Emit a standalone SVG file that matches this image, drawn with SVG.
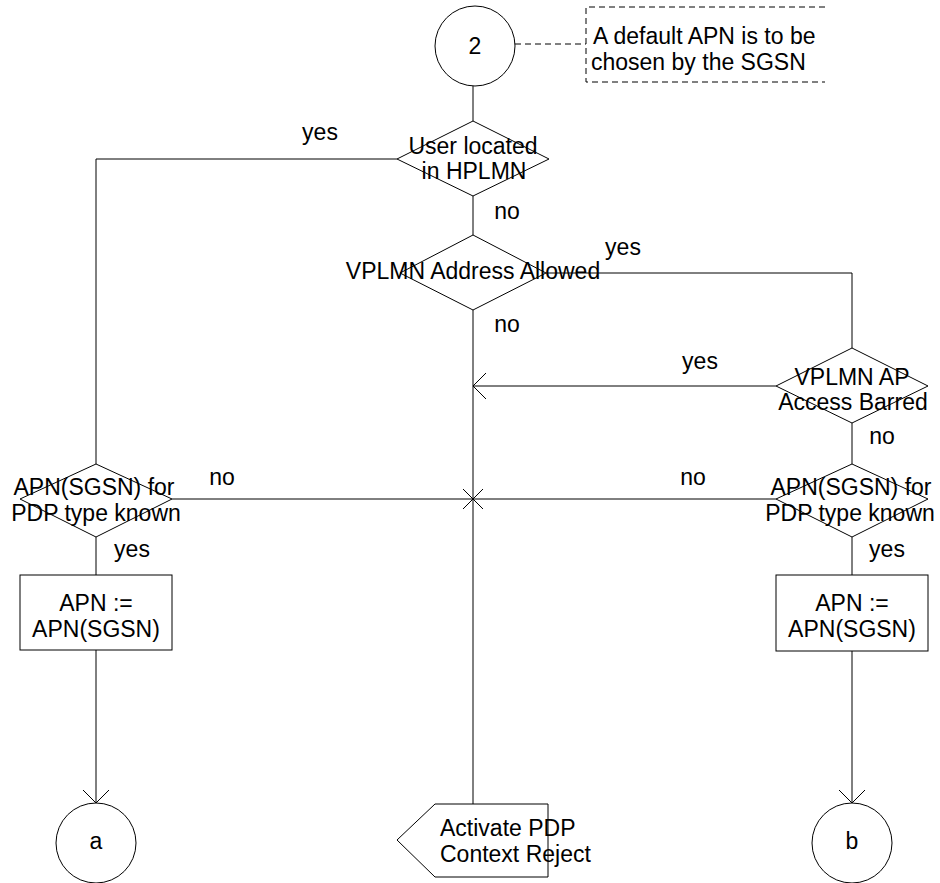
<svg xmlns="http://www.w3.org/2000/svg" width="940" height="883" viewBox="0 0 940 883">
<defs>
<style>
text{font-family:"Liberation Sans",Arial,sans-serif;font-size:23px;fill:#000}
.c{text-anchor:middle}
.s{fill:#fff;stroke:#000;stroke-width:1}
.ln{fill:none;stroke:#000;stroke-width:1}
.d{fill:none;stroke:#000;stroke-width:1;stroke-dasharray:6,4}
</style>
<marker id="arr" markerUnits="userSpaceOnUse" viewBox="0 0 13 26" refX="13" refY="13" markerWidth="13" markerHeight="26" orient="auto">
<path d="M0,0 L13,13 L0,26" fill="none" stroke="#000" stroke-width="1"/>
</marker>
</defs>
<rect width="940" height="883" fill="#fff"/>
<g id="connectors">
<path class="ln" d="M473,86 V121"/>
<path class="ln" d="M397,159 H96 V464"/>
<path class="ln" d="M473,196 V235"/>
<path class="ln" d="M546,273 H852 V348"/>
<path class="ln" d="M473,310 V804"/>
<path class="ln" d="M776,386 H473" marker-end="url(#arr)"/>
<path class="ln" d="M852,423 V464"/>
<path class="ln" d="M172,499 H473"/>
<path class="ln" d="M776,499 H473"/>
<path class="ln" d="M463,489 L483,509 M463,509 L483,489"/>
<path class="ln" d="M96,537 V575"/>
<path class="ln" d="M852,537 V575"/>
<path class="ln" d="M96,650 V803" marker-end="url(#arr)"/>
<path class="ln" d="M852,651 V803" marker-end="url(#arr)"/>
<path class="d" d="M515,44 H586"/>
<text class="c" x="320" y="140">yes</text>
<text class="c" x="507" y="219">no</text>
<text class="c" x="623" y="255">yes</text>
<text class="c" x="507" y="332">no</text>
<text class="c" x="700" y="369">yes</text>
<text class="c" x="882" y="444">no</text>
<text class="c" x="222" y="485">no</text>
<text class="c" x="693" y="485">no</text>
<text class="c" x="132" y="557">yes</text>
<text class="c" x="887" y="557">yes</text>
</g>
<g id="start2">
<circle class="s" cx="475" cy="46" r="40"/>
<text class="c" x="475" y="54">2</text>
</g>
<g id="note">
<path class="d" d="M825,7 H586 V82 H825"/>
<text x="593" y="44">A default APN is to be</text>
<text x="591" y="70">chosen by the SGSN</text>
</g>
<g id="hplmn">
<polygon class="s" points="473,121 549,159 473,196 397,159"/>
<text class="c" x="473" y="154">User located</text>
<text class="c" x="474" y="179">in HPLMN</text>
</g>
<g id="vplmnAllowed">
<polygon class="s" points="473,235 546,273 473,310 400,273"/>
<text class="c" x="473" y="279">VPLMN Address Allowed</text>
</g>
<g id="vplmnBarred">
<polygon class="s" points="852,348 928,386 852,423 776,386"/>
<text class="c" x="852" y="385">VPLMN AP</text>
<text class="c" x="853" y="410">Access Barred</text>
</g>
<g id="apnLeft">
<polygon class="s" points="96,464 172,499 96,537 20,499"/>
<text class="c" x="94" y="495">APN(SGSN) for</text>
<text class="c" x="96" y="521">PDP type known</text>
</g>
<g id="apnRight">
<polygon class="s" points="852,464 928,499 852,537 776,499"/>
<text class="c" x="851" y="495">APN(SGSN) for</text>
<text class="c" x="850" y="521">PDP type known</text>
</g>
<g id="assignLeft">
<rect class="s" x="20" y="575" width="152" height="75"/>
<text class="c" x="96" y="611">APN :=</text>
<text class="c" x="96" y="637">APN(SGSN)</text>
</g>
<g id="assignRight">
<rect class="s" x="776" y="575" width="152" height="76"/>
<text class="c" x="852" y="611">APN :=</text>
<text class="c" x="852" y="637">APN(SGSN)</text>
</g>
<g id="connA">
<circle class="s" cx="96" cy="843" r="40"/>
<text class="c" x="96" y="849">a</text>
</g>
<g id="reject">
<polygon class="s" points="397,840 435,804 548,804 548,877 435,877"/>
<text x="440" y="836">Activate PDP</text>
<text x="440" y="862">Context Reject</text>
</g>
<g id="connB">
<circle class="s" cx="852" cy="843" r="40"/>
<text class="c" x="852" y="849">b</text>
</g>
</svg>
